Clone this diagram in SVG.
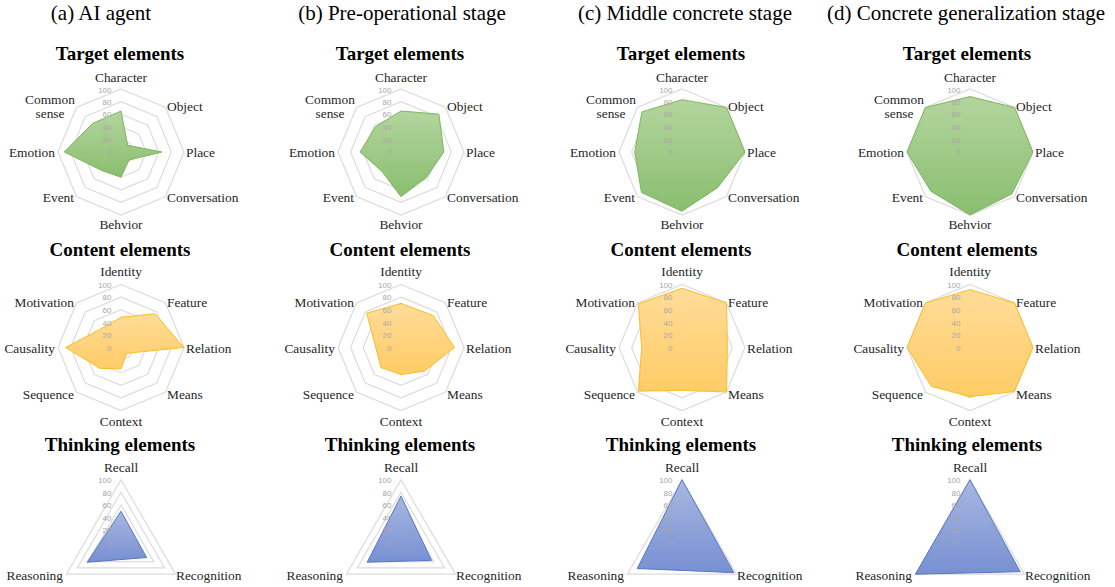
<svg xmlns="http://www.w3.org/2000/svg" xmlns:xlink="http://www.w3.org/1999/xlink" width="1115" height="587" viewBox="0 0 1115 587">
<defs>
<style>
.lbl{font-family:"Liberation Serif","Times New Roman",serif;font-size:13.4px;fill:#262626}
.m{text-anchor:middle}.e{text-anchor:end}
.ax{font-family:"Liberation Sans",Arial,sans-serif;font-size:8px;fill:#a6a6a6;text-anchor:end}
.ttl{font-family:"Liberation Serif","Times New Roman",serif;font-weight:bold;font-size:19px;text-anchor:middle;fill:#000}
.hdr{font-family:"Liberation Serif","Times New Roman",serif;font-size:21px;text-anchor:middle;fill:#000}
.grid{fill:none;stroke:#dcdcdc;stroke-width:1.2}
.gT{fill:url(#gGreen);stroke:#7db65d;stroke-width:1;stroke-linejoin:round}
.gC{fill:url(#gOrange);stroke:#f7be2a;stroke-width:1;stroke-linejoin:round}
.gH{fill:url(#gBlue);stroke:#5676c4;stroke-width:1;stroke-linejoin:round}
</style>
<linearGradient id="gGreen" x1="0" y1="0" x2="0" y2="1"><stop offset="0" stop-color="#b3d59e"/><stop offset="1" stop-color="#89be6f"/></linearGradient>
<linearGradient id="gOrange" x1="0" y1="0" x2="0" y2="1"><stop offset="0" stop-color="#ffdc98"/><stop offset="1" stop-color="#ffcc66"/></linearGradient>
<linearGradient id="gBlue" x1="0" y1="0" x2="0" y2="1"><stop offset="0" stop-color="#a8b7e0"/><stop offset="1" stop-color="#7890d3"/></linearGradient>
<g id="oct" class="grid">
<polygon points="0,-12.6 8.91,-8.91 12.6,0 8.91,8.91 0,12.6 -8.91,8.91 -12.6,0 -8.91,-8.91"/>
<polygon points="0,-25.2 17.82,-17.82 25.2,0 17.82,17.82 0,25.2 -17.82,17.82 -25.2,0 -17.82,-17.82"/>
<polygon points="0,-37.8 26.73,-26.73 37.8,0 26.73,26.73 0,37.8 -26.73,26.73 -37.8,0 -26.73,-26.73"/>
<polygon points="0,-50.4 35.64,-35.64 50.4,0 35.64,35.64 0,50.4 -35.64,35.64 -50.4,0 -35.64,-35.64"/>
<polygon points="0,-63 44.55,-44.55 63,0 44.55,44.55 0,63 -44.55,44.55 -63,0 -44.55,-44.55"/>
</g>
<g id="tri" class="grid">
<polygon points="0,-12.6 10.91,6.3 -10.91,6.3"/>
<polygon points="0,-25.2 21.82,12.6 -21.82,12.6"/>
<polygon points="0,-37.8 32.74,18.9 -32.74,18.9"/>
<polygon points="0,-50.4 43.65,25.2 -43.65,25.2"/>
<polygon points="0,-63 54.56,31.5 -54.56,31.5"/>
</g>
</defs>
<rect width="1115" height="587" fill="#fff"/>

<g id="headers">
<text class="hdr" x="101" y="20">(a) AI agent</text>
<text class="hdr" x="402" y="20">(b) Pre-operational stage</text>
<text class="hdr" x="685" y="20">(c) Middle concrete stage</text>
<text class="hdr" x="966" y="20">(d) Concrete generalization stage</text>
</g>

<g id="titles">
<text class="ttl" x="120" y="60">Target elements</text>
<text class="ttl" x="400" y="60">Target elements</text>
<text class="ttl" x="681" y="60">Target elements</text>
<text class="ttl" x="967" y="60">Target elements</text>
<text class="ttl" x="120" y="255.5">Content elements</text>
<text class="ttl" x="400" y="255.5">Content elements</text>
<text class="ttl" x="681" y="255.5">Content elements</text>
<text class="ttl" x="967" y="255.5">Content elements</text>
<text class="ttl" x="120" y="450.5">Thinking elements</text>
<text class="ttl" x="400" y="450.5">Thinking elements</text>
<text class="ttl" x="681" y="450.5">Thinking elements</text>
<text class="ttl" x="967" y="450.5">Thinking elements</text>
</g>

<!-- ===== Target charts ===== -->
<g id="target-a" transform="translate(121,152)">
<use href="#oct"/>
<polygon class="gT" points="0,-40.95 6.68,-6.68 40.95,0 8.02,8.02 0,25.2 -18.71,18.71 -56.7,0 -28.51,-28.51"/>
<text class="ax" x="-9.5" y="-59.5">100</text><text class="ax" x="-9.5" y="-47.2">80</text><text class="ax" x="-9.5" y="-34.6">60</text><text class="ax" x="-9.5" y="-22">40</text><text class="ax" x="-9.5" y="-9.4">20</text><text class="ax" x="-9.5" y="3">0</text>
<text class="lbl m" x="0" y="-70">Character</text><text class="lbl" x="46" y="-41">Object</text><text class="lbl" x="65" y="5">Place</text><text class="lbl" x="46" y="50">Conversation</text><text class="lbl m" x="0" y="77">Behvior</text><text class="lbl e" x="-47" y="50">Event</text><text class="lbl e" x="-66" y="5">Emotion</text><text class="lbl m" x="-71" y="-48">Common</text><text class="lbl m" x="-71" y="-34">sense</text>
</g>
<g id="target-b" transform="translate(401,152)">
<use href="#oct"/>
<polygon class="gT" points="0,-40.95 37.87,-37.87 42.84,0 25.39,25.39 0,44.73 -19.16,19.16 -40.95,0 -25.39,-25.39"/>
<text class="ax" x="-9.5" y="-59.5">100</text><text class="ax" x="-9.5" y="-47.2">80</text><text class="ax" x="-9.5" y="-34.6">60</text><text class="ax" x="-9.5" y="-22">40</text><text class="ax" x="-9.5" y="-9.4">20</text><text class="ax" x="-9.5" y="3">0</text>
<text class="lbl m" x="0" y="-70">Character</text><text class="lbl" x="46" y="-41">Object</text><text class="lbl" x="65" y="5">Place</text><text class="lbl" x="46" y="50">Conversation</text><text class="lbl m" x="0" y="77">Behvior</text><text class="lbl e" x="-47" y="50">Event</text><text class="lbl e" x="-66" y="5">Emotion</text><text class="lbl m" x="-71" y="-48">Common</text><text class="lbl m" x="-71" y="-34">sense</text>
</g>
<g id="target-c" transform="translate(682,152)">
<use href="#oct"/>
<polygon class="gT" points="0,-52.29 44.55,-44.55 63,0 35.64,35.64 0,59.22 -40.54,40.54 -47.25,0 -40.1,-40.1"/>
<text class="ax" x="-9.5" y="-59.5">100</text><text class="ax" x="-9.5" y="-47.2">80</text><text class="ax" x="-9.5" y="-34.6">60</text><text class="ax" x="-9.5" y="-22">40</text><text class="ax" x="-9.5" y="-9.4">20</text><text class="ax" x="-9.5" y="3">0</text>
<text class="lbl m" x="0" y="-70">Character</text><text class="lbl" x="46" y="-41">Object</text><text class="lbl" x="65" y="5">Place</text><text class="lbl" x="46" y="50">Conversation</text><text class="lbl m" x="0" y="77">Behvior</text><text class="lbl e" x="-47" y="50">Event</text><text class="lbl e" x="-66" y="5">Emotion</text><text class="lbl m" x="-71" y="-48">Common</text><text class="lbl m" x="-71" y="-34">sense</text>
</g>
<g id="target-d" transform="translate(970,152)">
<use href="#oct"/>
<polygon class="gT" points="0,-55.44 44.55,-44.55 63,0 41.88,41.88 0,63 -39.2,39.2 -63,0 -44.55,-44.55"/>
<text class="ax" x="-9.5" y="-59.5">100</text><text class="ax" x="-9.5" y="-47.2">80</text><text class="ax" x="-9.5" y="-34.6">60</text><text class="ax" x="-9.5" y="-22">40</text><text class="ax" x="-9.5" y="-9.4">20</text><text class="ax" x="-9.5" y="3">0</text>
<text class="lbl m" x="0" y="-70">Character</text><text class="lbl" x="46" y="-41">Object</text><text class="lbl" x="65" y="5">Place</text><text class="lbl" x="46" y="50">Conversation</text><text class="lbl m" x="0" y="77">Behvior</text><text class="lbl e" x="-47" y="50">Event</text><text class="lbl e" x="-66" y="5">Emotion</text><text class="lbl m" x="-71" y="-48">Common</text><text class="lbl m" x="-71" y="-34">sense</text>
</g>

<!-- ===== Content charts ===== -->
<g id="content-a" transform="translate(121,347.5)">
<use href="#oct"/>
<polygon class="gC" points="0,-30.24 33.86,-33.86 63,0 5.79,5.79 0,21.42 -20.94,20.94 -55.44,0 -19.16,-19.16"/>
<text class="ax" x="-9.5" y="-59.5">100</text><text class="ax" x="-9.5" y="-47.2">80</text><text class="ax" x="-9.5" y="-34.6">60</text><text class="ax" x="-9.5" y="-22">40</text><text class="ax" x="-9.5" y="-9.4">20</text><text class="ax" x="-9.5" y="3">0</text>
<text class="lbl m" x="0" y="-71.5">Identity</text><text class="lbl" x="46" y="-41">Feature</text><text class="lbl" x="65" y="5">Relation</text><text class="lbl" x="46" y="51">Means</text><text class="lbl m" x="0" y="78">Context</text><text class="lbl e" x="-47" y="51">Sequence</text><text class="lbl e" x="-66" y="5">Causality</text><text class="lbl e" x="-47" y="-41">Motivation</text>
</g>
<g id="content-b" transform="translate(401,347.5)">
<use href="#oct"/>
<polygon class="gC" points="0,-44.1 32.08,-32.08 53.55,0 23.61,23.61 0,27.09 -20.05,20.05 -25.2,0 -34.3,-34.3"/>
<text class="ax" x="-9.5" y="-59.5">100</text><text class="ax" x="-9.5" y="-47.2">80</text><text class="ax" x="-9.5" y="-34.6">60</text><text class="ax" x="-9.5" y="-22">40</text><text class="ax" x="-9.5" y="-9.4">20</text><text class="ax" x="-9.5" y="3">0</text>
<text class="lbl m" x="0" y="-71.5">Identity</text><text class="lbl" x="46" y="-41">Feature</text><text class="lbl" x="65" y="5">Relation</text><text class="lbl" x="46" y="51">Means</text><text class="lbl m" x="0" y="78">Context</text><text class="lbl e" x="-47" y="51">Sequence</text><text class="lbl e" x="-66" y="5">Causality</text><text class="lbl e" x="-47" y="-41">Motivation</text>
</g>
<g id="content-c" transform="translate(682,347.5)">
<use href="#oct"/>
<polygon class="gC" points="0,-59.22 44.55,-44.55 45.36,0 44.55,44.55 0,42.84 -43.66,43.66 -40.32,0 -43.66,-43.66"/>
<text class="ax" x="-9.5" y="-59.5">100</text><text class="ax" x="-9.5" y="-47.2">80</text><text class="ax" x="-9.5" y="-34.6">60</text><text class="ax" x="-9.5" y="-22">40</text><text class="ax" x="-9.5" y="-9.4">20</text><text class="ax" x="-9.5" y="3">0</text>
<text class="lbl m" x="0" y="-71.5">Identity</text><text class="lbl" x="46" y="-41">Feature</text><text class="lbl" x="65" y="5">Relation</text><text class="lbl" x="46" y="51">Means</text><text class="lbl m" x="0" y="78">Context</text><text class="lbl e" x="-47" y="51">Sequence</text><text class="lbl e" x="-66" y="5">Causality</text><text class="lbl e" x="-47" y="-41">Motivation</text>
</g>
<g id="content-d" transform="translate(970,347.5)">
<use href="#oct"/>
<polygon class="gC" points="0,-57.96 44.55,-44.55 63,0 44.1,44.1 0,49.14 -38.76,38.76 -63,0 -44.55,-44.55"/>
<text class="ax" x="-9.5" y="-59.5">100</text><text class="ax" x="-9.5" y="-47.2">80</text><text class="ax" x="-9.5" y="-34.6">60</text><text class="ax" x="-9.5" y="-22">40</text><text class="ax" x="-9.5" y="-9.4">20</text><text class="ax" x="-9.5" y="3">0</text>
<text class="lbl m" x="0" y="-71.5">Identity</text><text class="lbl" x="46" y="-41">Feature</text><text class="lbl" x="65" y="5">Relation</text><text class="lbl" x="46" y="51">Means</text><text class="lbl m" x="0" y="78">Context</text><text class="lbl e" x="-47" y="51">Sequence</text><text class="lbl e" x="-66" y="5">Causality</text><text class="lbl e" x="-47" y="-41">Motivation</text>
</g>

<!-- ===== Thinking charts ===== -->
<g id="thinking-a" transform="translate(121,542.7)">
<use href="#tri"/>
<polygon class="gH" points="0,-31.5 25.64,14.81 -33.83,19.53"/>
<text class="ax" x="-9.5" y="-59.5">100</text><text class="ax" x="-9.5" y="-47.2">80</text><text class="ax" x="-9.5" y="-34.6">60</text><text class="ax" x="-9.5" y="-22">40</text><text class="ax" x="-9.5" y="-9.4">20</text><text class="ax" x="-9.5" y="3">0</text>
<text class="lbl m" x="0" y="-70.5">Recall</text><text class="lbl" x="55" y="37">Recognition</text><text class="lbl e" x="-58" y="37">Reasoning</text>
</g>
<g id="thinking-b" transform="translate(401,542.7)">
<use href="#tri"/>
<polygon class="gH" points="0,-46.62 30.55,17.64 -33.83,19.53"/>
<text class="ax" x="-9.5" y="-59.5">100</text><text class="ax" x="-9.5" y="-47.2">80</text><text class="ax" x="-9.5" y="-34.6">60</text><text class="ax" x="-9.5" y="-22">40</text><text class="ax" x="-9.5" y="-9.4">20</text><text class="ax" x="-9.5" y="3">0</text>
<text class="lbl m" x="0" y="-70.5">Recall</text><text class="lbl" x="55" y="37">Recognition</text><text class="lbl e" x="-58" y="37">Reasoning</text>
</g>
<g id="thinking-c" transform="translate(682,542.7)">
<use href="#tri"/>
<polygon class="gH" points="0,-63 51.83,29.93 -44.74,25.83"/>
<text class="ax" x="-9.5" y="-59.5">100</text><text class="ax" x="-9.5" y="-47.2">80</text><text class="ax" x="-9.5" y="-34.6">60</text><text class="ax" x="-9.5" y="-22">40</text><text class="ax" x="-9.5" y="-9.4">20</text><text class="ax" x="-9.5" y="3">0</text>
<text class="lbl m" x="0" y="-70.5">Recall</text><text class="lbl" x="55" y="37">Recognition</text><text class="lbl e" x="-58" y="37">Reasoning</text>
</g>
<g id="thinking-d" transform="translate(970,542.7)">
<use href="#tri"/>
<polygon class="gH" points="0,-63 50.19,28.98 -54.56,31.5"/>
<text class="ax" x="-9.5" y="-59.5">100</text><text class="ax" x="-9.5" y="-47.2">80</text><text class="ax" x="-9.5" y="-34.6">60</text><text class="ax" x="-9.5" y="-22">40</text><text class="ax" x="-9.5" y="-9.4">20</text><text class="ax" x="-9.5" y="3">0</text>
<text class="lbl m" x="0" y="-70.5">Recall</text><text class="lbl" x="55" y="37">Recognition</text><text class="lbl e" x="-58" y="37">Reasoning</text>
</g>
</svg>
